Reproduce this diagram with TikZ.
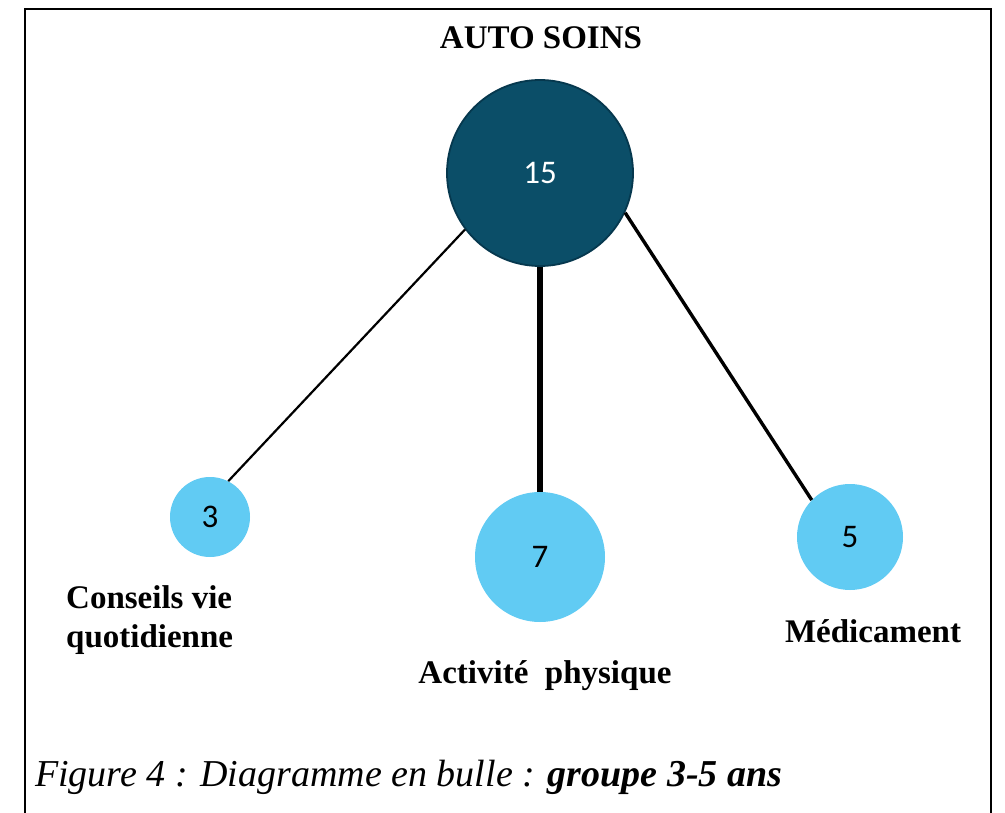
\documentclass[tikz,border=0pt]{standalone}
\usepackage{fontspec}
\setmainfont{Liberation Serif}
\newfontfamily\numfont{Carlito}
\definecolor{hubfill}{RGB}{11,78,104}
\definecolor{hubedge}{RGB}{6,56,78}
\definecolor{leaffill}{RGB}{97,203,243}
\tikzset{
  hub/.style={circle, fill=hubfill, draw=hubedge, line width=1.8pt, inner sep=0pt,
    minimum size=#1, text=white, font=\numfont\fontsize{33}{36}\selectfont},
  leaf/.style={circle, fill=leaffill, inner sep=0pt, minimum size=#1,
    text=black, font=\numfont\fontsize{33}{36}\selectfont},
  label/.style={font=\bfseries\fontsize{33}{39}\selectfont, inner sep=0pt},
  link/.style={draw=black, line cap=butt},
  frame/.style={draw=black, line width=2.2pt}
}
\begin{document}
\begin{tikzpicture}[x=1pt, y=-1pt]
\useasboundingbox (0,0) rectangle (1005,813);
\fill[white] (0,0) rectangle (1005,813);

% open frame around the figure
\draw[frame] (25,813) -- (25,9) -- (991,9) -- (991,813);

% title
\node[label, anchor=base] (title) at (541,49) {AUTO SOINS};

% bubbles
\node[hub=186pt] (c15) at (540,173) {15};
\node[leaf=80pt] (c3) at (210,517) {3};
\node[leaf=130pt] (c7) at (540,557) {7};
\node[leaf=106pt] (c5) at (850,537) {5};

% connectors
\draw[link, line width=2.2pt] (c15.217) -- (c3.63);
\draw[link, line width=6pt] (c15.south) -- (c7.north);
\draw[link, line width=3.4pt] (c15.335) -- (c5.136);

% bubble labels (the base anchor of a two-line node sits on its last line)
\node[label, anchor=base west, align=left] (lconseils) at (66,647) {Conseils vie\\quotidienne};
\node[label, anchor=base] (lactivite) at (545,683) {Activité\ \ physique};
\node[label, anchor=base] (lmedic) at (873,642) {Médicament};

% caption
\node[anchor=base west, inner sep=0pt, font=\itshape\fontsize{38}{40}\selectfont] (caption) at (35,786)
  {Figure 4 : Diagramme en bulle : \textbf{groupe 3-5 ans}};
\end{tikzpicture}
\end{document}
